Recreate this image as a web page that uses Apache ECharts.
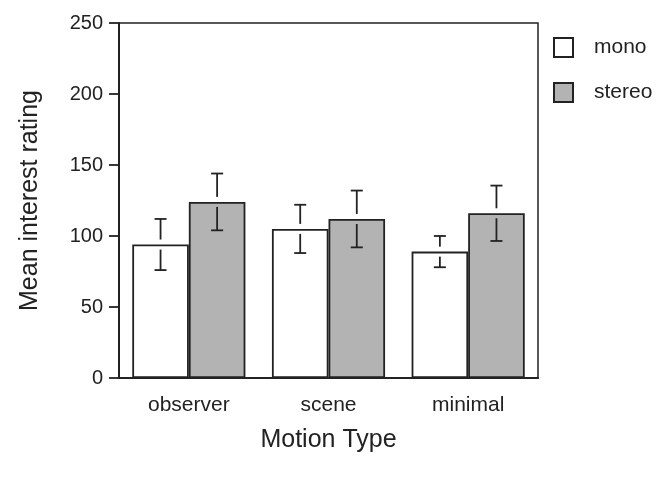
<!DOCTYPE html>
<html>
<head>
<meta charset="utf-8">
<script src="https://cdn.jsdelivr.net/npm/echarts@6/dist/echarts.min.js"></script>
<style>
  html, body { margin: 0; padding: 0; background: #fff; }
  #chart { width: 668px; height: 477px; }
</style>
</head>
<body>
<div id="chart"></div>
<script>
/* data */
const categories = ['observer', 'scene', 'minimal'];
const monoMean = [94, 105, 89];
const monoErr = [18, 17, 11];
const stereoMean = [124, 112, 116];
const stereoErr = [20, 20, 19.5];
const yTicks = { min: 0, max: 250, interval: 50 };

const ink = '#222';
const font = '"Liberation Sans", Arial, sans-serif';
const catGap = 0.19;

// error bar drawn as two pieces, leaving a small gap around the bar top
const errorBars = (means, errs, side) => ({
  type: 'custom',
  silent: true,
  z: 5,
  data: means.map((m, i) => [i, m, errs[i]]),
  renderItem(params, api) {
    const i = api.value(0);
    const m = api.value(1);
    const e = api.value(2);
    const band = api.size([1, 0])[0];
    const barW = band * (1 - catGap) / 2;
    const x = api.coord([i, m])[0] + side * barW / 2;
    const yMid = api.coord([i, m])[1];
    const yHi = api.coord([i, m + e])[1];
    const yLo = api.coord([i, m - e])[1];
    const cap = 6;
    const gap = 5;
    const style = { stroke: ink, lineWidth: 1.8 };
    return {
      type: 'group',
      children: [
        { type: 'line', shape: { x1: x, y1: yHi, x2: x, y2: yMid - gap }, style },
        { type: 'line', shape: { x1: x - cap, y1: yHi, x2: x + cap, y2: yHi }, style },
        { type: 'line', shape: { x1: x, y1: yMid + gap, x2: x, y2: yLo }, style },
        { type: 'line', shape: { x1: x - cap, y1: yLo, x2: x + cap, y2: yLo }, style },
      ],
    };
  },
});

const chart = echarts.init(document.getElementById('chart'));
chart.setOption({
  animation: false,
  textStyle: { fontFamily: font, color: ink },
  grid: {
    left: 119, right: 130, top: 23, bottom: 99,
    show: true, borderColor: ink, borderWidth: 1.5,
  },
  legend: {
    orient: 'vertical',
    left: 553, top: 37,
    padding: 0,
    itemWidth: 19, itemHeight: 19, itemGap: 24,
    icon: 'rect',
    data: ['mono', 'stereo'],
    textStyle: { fontSize: 21, color: ink, fontFamily: font, padding: [0, 0, 0, 16] },
  },
  xAxis: {
    type: 'category',
    data: categories,
    name: 'Motion Type',
    nameLocation: 'middle',
    nameGap: 50,
    nameTextStyle: { fontSize: 25, color: ink },
    axisLine: { lineStyle: { color: ink, width: 2 } },
    axisTick: { alignWithLabel: true, length: 9, lineStyle: { color: ink, width: 1.8 } },
    axisLabel: { fontSize: 21, color: ink, margin: 17 },
  },
  yAxis: {
    type: 'value',
    min: yTicks.min, max: yTicks.max, interval: yTicks.interval,
    name: 'Mean interest rating',
    nameLocation: 'middle',
    nameGap: 76,
    nameTextStyle: { fontSize: 25, color: ink },
    axisLine: { show: true, lineStyle: { color: ink, width: 2 } },
    axisTick: { show: true, length: 10, lineStyle: { color: ink, width: 1.8 } },
    axisLabel: { fontSize: 20, color: ink, margin: 16 },
    splitLine: { show: false },
  },
  series: [
    {
      name: 'mono', type: 'bar', data: monoMean,
      barGap: 0, barCategoryGap: (catGap * 100) + '%',
      itemStyle: { color: '#fff', borderColor: ink, borderWidth: 1.8 },
    },
    {
      name: 'stereo', type: 'bar', data: stereoMean,
      itemStyle: { color: '#b3b3b3', borderColor: ink, borderWidth: 1.8 },
    },
    errorBars(monoMean, monoErr, -1),
    errorBars(stereoMean, stereoErr, 1),
  ],
});
</script>
</body>
</html>
